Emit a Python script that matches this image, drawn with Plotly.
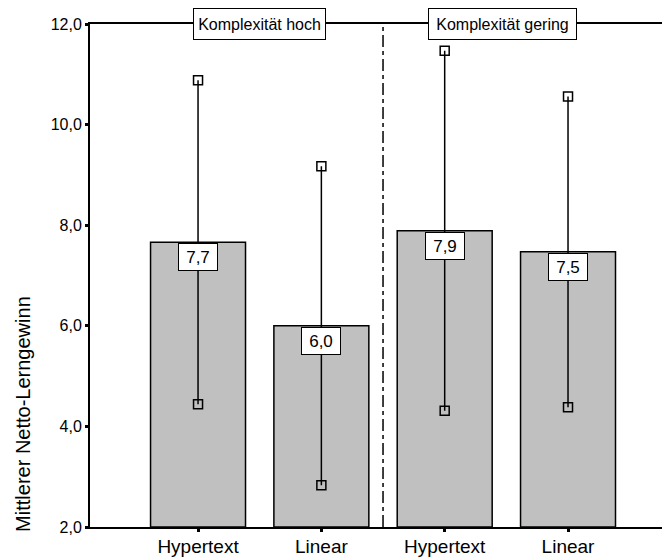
import plotly.graph_objects as go

# ---- data ----
categories = ["Hypertext", "Linear", "Hypertext", "Linear"]
groups = ["Komplexität hoch", "Komplexität gering"]
means = [7.66, 6.00, 7.89, 7.47]
errors = [3.22, 3.17, 3.58, 3.09]
value_labels = ["7,7", "6,0", "7,9", "7,5"]
y_ticks = [2, 4, 6, 8, 10, 12]
y_tick_labels = ["2,0", "4,0", "6,0", "8,0", "10,0", "12,0"]
y_title = "Mittlerer Netto-Lerngewinn"

FONT = "Liberation Sans, Arial, sans-serif"
xs = list(range(len(categories)))

fig = go.Figure()

fig.add_trace(go.Bar(
    x=xs, y=[m - 2 for m in means], base=2,
    width=0.77,
    marker=dict(color="#c0c0c0", line=dict(color="black", width=1.5)),
    hoverinfo="skip", showlegend=False,
))

# error lines
lx, ly = [], []
for x, m, e in zip(xs, means, errors):
    lx += [x, x, None]
    ly += [m - e, m + e, None]
fig.add_trace(go.Scatter(x=lx, y=ly, mode="lines",
                         line=dict(color="black", width=1.5),
                         hoverinfo="skip", showlegend=False))
mx, my = [], []
for x, m, e in zip(xs, means, errors):
    mx += [x, x]
    my += [m - e, m + e]
fig.add_trace(go.Scatter(x=mx, y=my, mode="markers",
                         marker=dict(symbol="square-open", size=9,
                                     color="black", line=dict(width=1.5)),
                         hoverinfo="skip", showlegend=False))

# value label boxes
for x, m, t in zip(xs, means, value_labels):
    fig.add_annotation(x=x, y=m, xref="x", yref="y", text=t, showarrow=False,
                       yanchor="top", xanchor="center", yshift=-1,
                       font=dict(family=FONT, size=17, color="black"),
                       bgcolor="white", bordercolor="black", borderwidth=1,
                       borderpad=1, width=36, height=24)

# divider
fig.add_shape(type="line", x0=1.5, x1=1.5, y0=2, y1=12, xref="x", yref="y",
              line=dict(color="black", width=1.5, dash="12px,4px,4px,4px"))

# group header boxes on the top line
group_x = [0.5, 2.47]
group_w = [129, 145]
for gx, g, w in zip(group_x, groups, group_w):
    fig.add_annotation(x=gx, y=1, xref="x", yref="paper", text=g, showarrow=False,
                       xanchor="center", yanchor="middle",
                       font=dict(family=FONT, size=16, color="black"),
                       bgcolor="white", bordercolor="black", borderwidth=1,
                       borderpad=1, width=w, height=28)

# y title
fig.add_annotation(x=-0.117, y=0.225, xref="paper", yref="paper", text=y_title,
                   showarrow=False, textangle=-90, xanchor="center", yanchor="middle",
                   font=dict(family=FONT, size=20, color="black"))

fig.update_layout(
    width=662, height=560,
    margin=dict(l=90, r=0, t=24, b=33),
    plot_bgcolor="white", paper_bgcolor="white",
    font=dict(family=FONT, color="black"),
    bargap=0.2,
    xaxis=dict(range=[-0.876, 3.762], tickvals=xs, ticktext=categories,
               showgrid=False, zeroline=False, showline=True, linecolor="black",
               linewidth=1.5, mirror=True, ticks="outside", ticklen=3, tickwidth=3,
               tickcolor="black", tickfont=dict(family=FONT, size=19),
               ticklabelstandoff=-2),
    yaxis=dict(range=[2, 12], tickvals=y_ticks, ticktext=y_tick_labels,
               showgrid=False, zeroline=False, showline=True, linecolor="black",
               linewidth=2, ticks="outside", ticklen=3, tickwidth=3,
               tickcolor="black", tickfont=dict(family=FONT, size=16)),
)

fig.write_html(
    "out.html",
    config={"displayModeBar": False},
    post_script="document.body.style.margin='0';document.body.style.padding='0';",
)
